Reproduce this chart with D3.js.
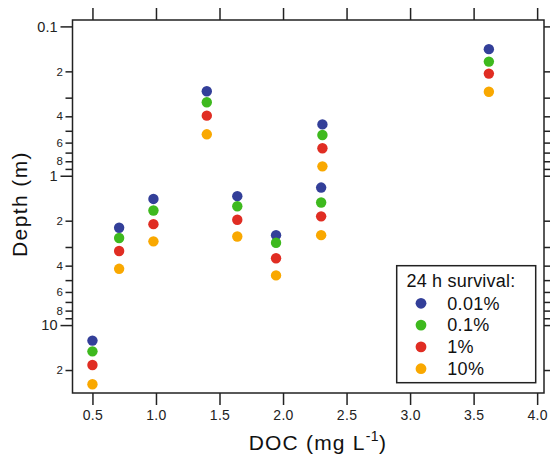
<!DOCTYPE html>
<html>
<head>
<meta charset="utf-8">
<script src="https://cdn.jsdelivr.net/npm/d3@7/dist/d3.min.js"></script>
<style>
  body { margin: 0; background: #fff; }
  svg { display: block; font-family: "Liberation Sans", Arial, sans-serif; }
</style>
</head>
<body>
<svg id="chart" width="550" height="458"></svg>
<script>
// ---- data ----
const doc = [0.5, 0.71, 0.98, 1.40, 1.64, 1.945, 2.31, 2.30, 3.62];
const survival001 = [12.7, 2.23, 1.43, 0.272, 1.37, 2.50, 0.453, 1.20, 0.142];
const survival01  = [15.0, 2.61, 1.71, 0.322, 1.60, 2.81, 0.534, 1.51, 0.172];
const survival1   = [18.5, 3.19, 2.11, 0.396, 1.97, 3.57, 0.655, 1.87, 0.207];
const survival10  = [24.9, 4.20, 2.75, 0.528, 2.55, 4.65, 0.865, 2.50, 0.274];
const seriesNames = ["0.01%", "0.1%", "1%", "10%"];
const seriesColors = ["#333f99", "#3eb91e", "#e02d23", "#f9a800"];
const xTicks = [0.5, 1.0, 1.5, 2.0, 2.5, 3.0, 3.5, 4.0];
const yMajor = [0.1, 1, 10];
const yMinor = [0.2, 0.3, 0.4, 0.5, 0.6, 0.7, 0.8, 0.9, 2, 3, 4, 5, 6, 7, 8, 9, 20];
const yMinorLabeled = [0.2, 0.4, 0.6, 0.8, 2, 4, 6, 8, 20];

const seriesValues = [survival001, survival01, survival1, survival10];

// ---- layout ----
const L = 72.5, R = 544, T = 20, B = 393;
const svg = d3.select("#chart");
const x = d3.scaleLinear().domain([0.343, 4.054]).range([L, R]);
const y = d3.scaleLog().domain([0.0906, 28.5]).range([T, B]);
const ink = "#222";

// frame
svg.append("rect").attr("x", L).attr("y", T).attr("width", R - L).attr("height", B - T)
  .attr("fill", "none").attr("stroke", ink).attr("stroke-width", 1.5);

function styleAxis(g) {
  g.select(".domain").remove();
  g.selectAll(".tick line").attr("stroke", ink).attr("stroke-width", 1.5);
  g.selectAll(".tick text").attr("fill", "#222");
}

// bottom axis
svg.append("g").attr("transform", `translate(0,${B})`)
  .call(d3.axisBottom(x).tickValues(xTicks).tickSize(12).tickPadding(5).tickFormat(d3.format(".1f")))
  .call(styleAxis)
  .selectAll("text").attr("font-size", 14).attr("letter-spacing", 0.3);
// top axis
svg.append("g").attr("transform", `translate(0,${T})`)
  .call(d3.axisTop(x).tickValues(xTicks).tickSize(12).tickFormat(""))
  .call(styleAxis);

// left axis
svg.append("g").attr("transform", `translate(${L},0)`)
  .call(d3.axisLeft(y).tickValues(yMajor).tickSize(12).tickPadding(3).tickFormat(d => d3.format("~g")(d)))
  .call(styleAxis)
  .selectAll("text").attr("font-size", 14.5);
svg.append("g").attr("transform", `translate(${L},0)`)
  .call(d3.axisLeft(y).tickValues(yMinor).tickSize(7).tickPadding(2.5)
    .tickFormat(d => yMinorLabeled.includes(d) ? String(Math.round(d / Math.pow(10, Math.floor(Math.log10(d) + 1e-9)))) : ""))
  .call(styleAxis)
  .selectAll("text").attr("font-size", 11.5);

// right axis
svg.append("g").attr("transform", `translate(${R},0)`)
  .call(d3.axisRight(y).tickValues(yMajor).tickSize(12).tickFormat(""))
  .call(styleAxis);
svg.append("g").attr("transform", `translate(${R},0)`)
  .call(d3.axisRight(y).tickValues(yMinor).tickSize(7).tickFormat(""))
  .call(styleAxis);

// axis titles
const xt = svg.append("text").attr("x", 318).attr("y", 449.5).attr("text-anchor", "middle")
  .attr("font-size", 21).attr("letter-spacing", 1.2).attr("fill", "#111");
xt.append("tspan").text("DOC (mg L");
xt.append("tspan").attr("font-size", 14).attr("dy", -8.5).attr("letter-spacing", 0.5).text("-1");
xt.append("tspan").attr("dy", 8.5).text(")");

svg.append("text").attr("transform", "translate(27,204) rotate(-90)").attr("text-anchor", "middle")
  .attr("font-size", 21).attr("letter-spacing", 1.4).attr("fill", "#111").text("Depth (m)");

// points
seriesValues.forEach((vals, si) => {
  svg.append("g").selectAll("circle").data(vals).join("circle")
    .attr("cx", (d, i) => x(doc[i]))
    .attr("cy", d => y(d))
    .attr("r", 5.2)
    .attr("fill", seriesColors[si]);
});

// legend
const lg = svg.append("g");
lg.append("rect").attr("x", 396.7).attr("y", 265.7).attr("width", 139).attr("height", 117)
  .attr("fill", "#fff").attr("stroke", ink).attr("stroke-width", 1.5);
lg.append("text").attr("x", 406.5).attr("y", 287.3).attr("font-size", 18).attr("letter-spacing", 0.2).attr("fill", "#111")
  .text("24 h survival:");
seriesNames.forEach((n, i) => {
  const cy = 303.3 + i * 21.8;
  lg.append("circle").attr("cx", 421).attr("cy", cy).attr("r", 5.4).attr("fill", seriesColors[i]);
  lg.append("text").attr("x", 447.3).attr("y", cy + 6.3).attr("font-size", 18).attr("letter-spacing", 0.3).attr("fill", "#111").text(n);
});
</script>
</body>
</html>
